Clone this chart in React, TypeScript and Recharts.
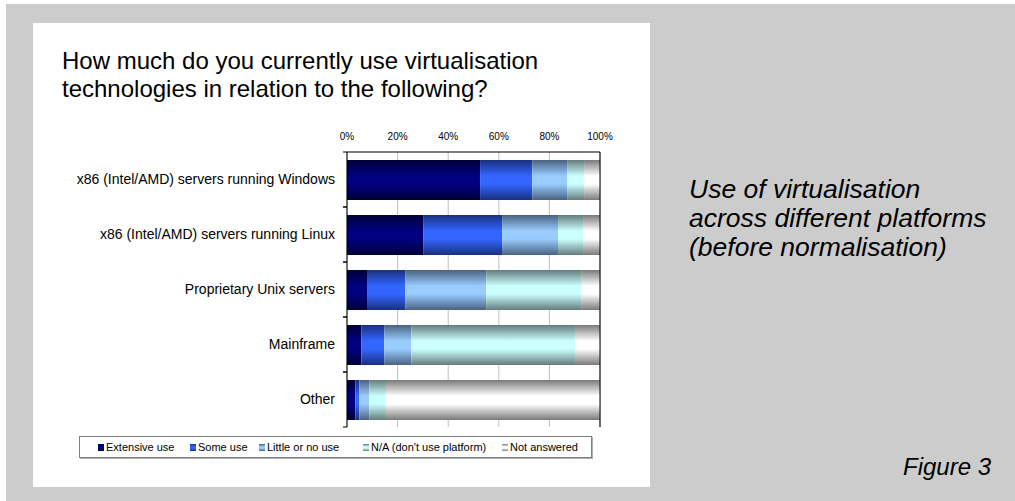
import React from 'react';
import { BarChart, Bar, XAxis, YAxis, CartesianGrid, ReferenceLine } from 'recharts';

// platforms, top to bottom
const categories = [
  'x86 (Intel/AMD) servers running Windows',
  'x86 (Intel/AMD) servers running Linux',
  'Proprietary Unix servers',
  'Mainframe',
  'Other',
];

// share of respondents (%) per platform
const extensiveUse = [52.6, 30.1, 7.9, 5.7, 3.3];
const someUse = [20.6, 31.2, 15.1, 9.0, 1.6];
const littleOrNoUse = [13.8, 22.1, 32.0, 10.7, 3.9];
const notApplicable = [6.7, 9.9, 37.8, 64.7, 6.6];
const notAnswered = [6.3, 6.7, 7.2, 9.9, 84.6];

const percentTicks = [0, 20, 40, 60, 80, 100];

const series = [
  { key: 'extensive', name: 'Extensive use', values: extensiveUse, color: '#000080', edge: '#000038' },
  { key: 'some', name: 'Some use', values: someUse, color: '#3366FF', edge: '#1A3080' },
  { key: 'little', name: 'Little or no use', values: littleOrNoUse, color: '#99CCFF', edge: '#4A6280' },
  { key: 'na', name: "N/A (don't use platform)", values: notApplicable, color: '#CCFFFF', edge: '#647C7C' },
  { key: 'none', name: 'Not answered', values: notAnswered, color: '#FFFFFF', edge: '#7A7A7A' },
];

const data = categories.map((name, i) => {
  const row: Record<string, string | number> = { name };
  series.forEach((s) => {
    row[s.key] = s.values[i];
  });
  return row;
});

const FONT = '"Liberation Sans", Arial, sans-serif';

// category label + small ticks on the band boundaries
function CategoryTick(props: any) {
  const { x, y, payload } = props;
  const axisX = x + 12;
  const half = payload && payload.offset ? payload.offset : 27.5;
  return (
    <g>
      <line x1={axisX - 4} x2={axisX} y1={y - half} y2={y - half} stroke="#000" />
      <line x1={axisX - 4} x2={axisX} y1={y + half} y2={y + half} stroke="#000" />
      <text x={x} y={y} dy="0.35em" textAnchor="end" fontSize={14} fill="#000" fontFamily={FONT}>
        {payload.value}
      </text>
    </g>
  );
}

const legendX = [18, 110, 179, 283, 422];

export default function App() {
  return (
    <div
      style={{
        position: 'absolute',
        left: 0,
        top: 0,
        width: 1015,
        height: 501,
        background: '#fff',
        fontFamily: FONT,
        overflow: 'hidden',
      }}
    >
      <div style={{ position: 'absolute', left: 6, top: 4, right: 0, bottom: 0, background: '#cccccc' }} />
      <div style={{ position: 'absolute', left: 33, top: 23, width: 617, height: 464, background: '#fff' }} />

      <div style={{ position: 'absolute', left: 62, top: 47, fontSize: 24, lineHeight: '28px', color: '#000' }}>
        How much do you currently use virtualisation
        <br />
        technologies in relation to the following?
      </div>

      <div style={{ position: 'absolute', left: 33, top: 23 }}>
        <BarChart
          width={617}
          height={464}
          data={data}
          layout="vertical"
          margin={{ top: 100, right: 50, bottom: 60, left: 0 }}
        >
          <defs>
            {series.map((s) => (
              <linearGradient key={s.key} id={`g-${s.key}`} x1="0" y1="0" x2="0" y2="1">
                <stop offset="0%" stopColor={s.edge} />
                <stop offset="40%" stopColor={s.color} />
                <stop offset="60%" stopColor={s.color} />
                <stop offset="100%" stopColor={s.edge} />
              </linearGradient>
            ))}
          </defs>
          <CartesianGrid horizontal={false} stroke="#c0c0c0" />
          <XAxis
            type="number"
            orientation="top"
            domain={[0, 100]}
            ticks={percentTicks}
            interval={0}
            tickFormatter={(v: number) => `${v}%`}
            height={29}
            tickSize={0}
            tickMargin={12}
            axisLine={{ stroke: '#000' }}
            tick={{ fontSize: 10, fill: '#000' }}
          />
          <XAxis
            xAxisId="b"
            type="number"
            orientation="bottom"
            domain={[0, 100]}
            height={0}
            tick={false}
            tickLine={false}
            axisLine={{ stroke: '#808080' }}
          />
          <YAxis
            type="category"
            dataKey="name"
            width={314}
            tickSize={0}
            tickMargin={12}
            interval={0}
            axisLine={{ stroke: '#000' }}
            tick={<CategoryTick />}
          />
          {series.map((s) => (
            <Bar
              key={s.key}
              dataKey={s.key}
              name={s.name}
              stackId="a"
              fill={`url(#g-${s.key})`}
              barSize={40}
              isAnimationActive={false}
            />
          ))}
          <ReferenceLine x={100} stroke="#000" />
        </BarChart>
      </div>

      {/* legend */}
      <div
        style={{
          position: 'absolute',
          left: 79,
          top: 436,
          width: 513,
          height: 22,
          boxSizing: 'border-box',
          border: '1px solid #808080',
          boxShadow: '1px 1px 0 #b0b0b0',
          background: '#fff',
        }}
      >
        {series.map((s, i) => (
          <div
            key={s.key}
            style={{
              position: 'absolute',
              left: legendX[i],
              top: 0,
              height: 20,
              display: 'flex',
              alignItems: 'center',
              fontSize: 11,
              color: '#000',
              whiteSpace: 'nowrap',
            }}
          >
            <span
              style={{
                display: 'inline-block',
                width: 6,
                height: 7,
                marginRight: 2,
                background: `linear-gradient(${s.edge}, ${s.color} 40%, ${s.color} 60%, ${s.edge})`,
              }}
            />
            {s.name}
          </div>
        ))}
      </div>

      <div
        style={{
          position: 'absolute',
          left: 689,
          top: 175,
          fontSize: 26.5,
          lineHeight: '29px',
          fontStyle: 'italic',
          color: '#000',
          whiteSpace: 'nowrap',
        }}
      >
        Use of virtualisation
        <br />
        across different platforms
        <br />
        (before normalisation)
      </div>

      <div
        style={{
          position: 'absolute',
          left: 903,
          top: 453,
          fontSize: 24,
          lineHeight: '28px',
          fontStyle: 'italic',
          color: '#000',
          whiteSpace: 'nowrap',
        }}
      >
        Figure 3
      </div>
    </div>
  );
}
